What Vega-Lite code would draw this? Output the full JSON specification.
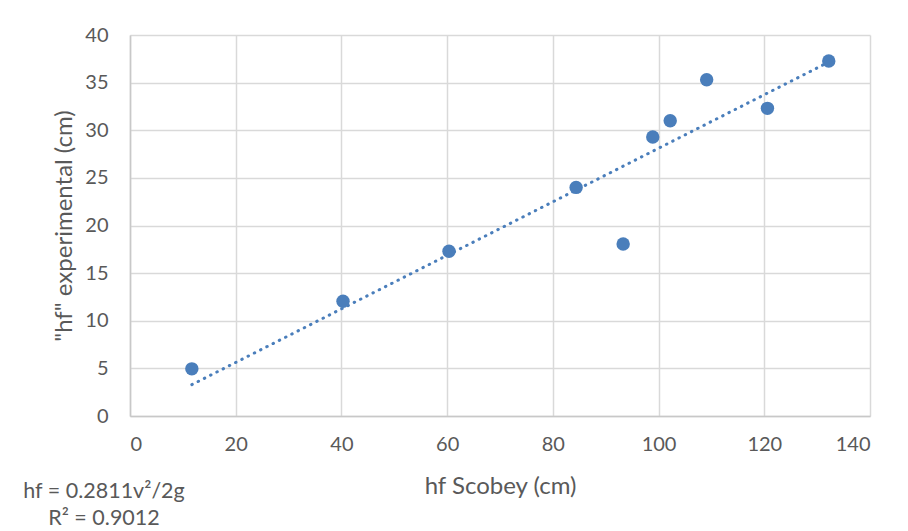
{
  "$schema": "https://vega.github.io/schema/vega-lite/v6.json",
  "width": 740,
  "height": 381,
  "autosize": {"type": "none"},
  "padding": {"left": 130, "top": 35, "right": 38, "bottom": 115},
  "background": "white",
  "config": {
    "font": "Lato",
    "view": {"stroke": null},
    "axis": {
      "gridColor": "#d9d9d9",
      "gridWidth": 1.5,
      "domainColor": "#c8c8c8",
      "domainWidth": 1.5,
      "ticks": false,
      "labelColor": "#595959",
      "labelFontSize": 20,
      "labelFont": "Lato",
      "titleColor": "#595959",
      "titleFontSize": 24,
      "titleFontWeight": "normal",
      "titleFont": "Lato"
    }
  },
  "title": {
    "text": ["hf = 0.2811v²/2g", "R² = 0.9012"],
    "orient": "bottom",
    "anchor": "start",
    "frame": "group",
    "align": "center",
    "dx": -26,
    "offset": -17,
    "fontSize": 21.5,
    "fontWeight": "normal",
    "color": "#595959",
    "font": "Lato",
    "lineHeight": 27
  },
  "datasets": {
    "points": [
      {"hf_scobey": 11.7, "hf_exp": 4.95},
      {"hf_scobey": 40.3, "hf_exp": 12.05},
      {"hf_scobey": 60.35, "hf_exp": 17.3},
      {"hf_scobey": 84.4, "hf_exp": 24.0},
      {"hf_scobey": 93.3, "hf_exp": 18.05},
      {"hf_scobey": 98.9, "hf_exp": 29.3},
      {"hf_scobey": 102.2, "hf_exp": 31.0},
      {"hf_scobey": 109.1, "hf_exp": 35.3},
      {"hf_scobey": 120.6, "hf_exp": 32.3},
      {"hf_scobey": 132.2, "hf_exp": 37.27}
    ],
    "trend": [
      {"hf_scobey": 11.7, "hf_exp": 3.29},
      {"hf_scobey": 132.2, "hf_exp": 37.16}
    ]
  },
  "layer": [
    {
      "data": {"name": "trend"},
      "mark": {"type": "line", "color": "#4a7ebb", "strokeWidth": 3, "strokeDash": [0.5, 6.5], "strokeCap": "round"},
      "encoding": {
        "x": {"field": "hf_scobey", "type": "quantitative", "scale": {"domain": [0, 140]}},
        "y": {"field": "hf_exp", "type": "quantitative", "scale": {"domain": [0, 40]}}
      }
    },
    {
      "data": {"name": "points"},
      "mark": {"type": "circle", "size": 180, "color": "#4a7ebb", "opacity": 1},
      "encoding": {
        "x": {
          "field": "hf_scobey", "type": "quantitative",
          "scale": {"domain": [0, 140], "nice": false},
          "axis": {"values": [0, 20, 40, 60, 80, 100, 120, 140], "title": "hf Scobey (cm)", "labelPadding": 18, "titlePadding": 20}
        },
        "y": {
          "field": "hf_exp", "type": "quantitative",
          "scale": {"domain": [0, 40], "nice": false},
          "axis": {"values": [0, 5, 10, 15, 20, 25, 30, 35, 40], "title": "\"hf\" experimental (cm)", "labelPadding": 22, "titlePadding": 8}
        }
      }
    }
  ]
}
